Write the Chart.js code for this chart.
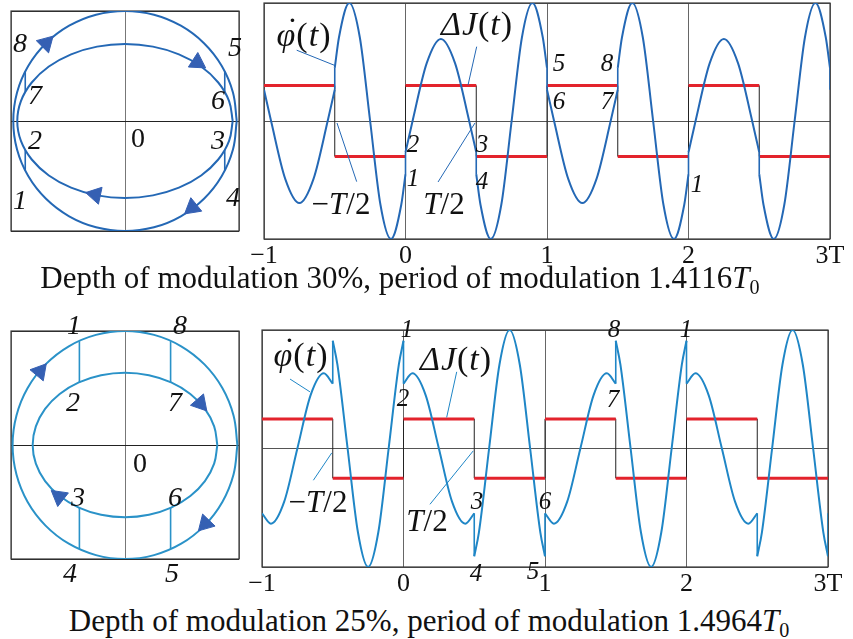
<!DOCTYPE html>
<html>
<head>
<meta charset="utf-8">
<script src="https://cdn.jsdelivr.net/npm/chart.js@4.4.1/dist/chart.umd.min.js"></script>
<style>
  body { margin: 0; background: #fff; width: 853px; height: 639px; overflow: hidden; position: relative;
         font-family: "Liberation Serif", "Times New Roman", serif; color: #111; }
  .box { position: absolute; }
  .lbl { position: absolute; transform: translate(-50%, -50%); font-style: italic; line-height: 1; white-space: nowrap; }
  .ph { font-size: 28px; }
  .ts { font-size: 25px; }
  .big { font-size: 31px; }
  .huge { font-size: 34px; letter-spacing: 1px; }
  .up { font-style: normal; }
  .dotted { position: relative; }
  .dotted .d { position: absolute; left: 0.3em; top: -0.1em; font-style: normal; }
  .cap { position: absolute; transform: translate(-50%, -50%); font-size: 31px; line-height: 1; white-space: nowrap; }
  .cap sub { font-size: 0.65em; line-height: 0; vertical-align: -0.3em; }
</style>
</head>
<body>

<div class="box" style="left:0;top:0"><canvas id="phaseTop" width="250" height="242"></canvas></div>
<div class="box" style="left:244px;top:0"><canvas id="timeTop" width="609" height="272"></canvas></div>
<div class="box" style="left:0;top:320px"><canvas id="phaseBot" width="250" height="250"></canvas></div>
<div class="box" style="left:244px;top:320px"><canvas id="timeBot" width="609" height="280"></canvas></div>

<!-- top phase portrait labels -->
<div class="lbl ph" style="left:20px;top:43px">8</div>
<div class="lbl ph" style="left:235px;top:47px">5</div>
<div class="lbl ph" style="left:35px;top:95px">7</div>
<div class="lbl ph" style="left:218px;top:100px">6</div>
<div class="lbl ph" style="left:35px;top:140px">2</div>
<div class="lbl ph up" style="left:138px;top:138px">0</div>
<div class="lbl ph" style="left:218px;top:140px">3</div>
<div class="lbl ph" style="left:20px;top:200px">1</div>
<div class="lbl ph" style="left:233px;top:197px">4</div>

<!-- top time series labels -->
<div class="lbl huge" style="left:304px;top:35px"><span class="dotted">φ<span class="d">˙</span></span><span class="up">(</span>t<span class="up">)</span></div>
<div class="lbl huge" style="left:477px;top:24px">ΔJ<span class="up">(</span>t<span class="up">)</span></div>
<div class="lbl big" style="left:341px;top:203px"><span class="up">−</span>T<span class="up">/2</span></div>
<div class="lbl big" style="left:444px;top:203px">T<span class="up">/2</span></div>
<div class="lbl ts" style="left:413px;top:143px">2</div>
<div class="lbl ts" style="left:413px;top:177px">1</div>
<div class="lbl ts" style="left:482px;top:143px">3</div>
<div class="lbl ts" style="left:482px;top:180px">4</div>
<div class="lbl ts" style="left:559px;top:62px">5</div>
<div class="lbl ts" style="left:559px;top:100px">6</div>
<div class="lbl ts" style="left:607px;top:62px">8</div>
<div class="lbl ts" style="left:607px;top:100px">7</div>
<div class="lbl ts" style="left:697px;top:183px">1</div>

<div class="cap" style="left:400px;top:277px">Depth of modulation 30%, period of modulation 1.4116<i>T</i><sub>0</sub></div>

<!-- bottom phase portrait labels -->
<div class="lbl ph" style="left:74px;top:325px">1</div>
<div class="lbl ph" style="left:180px;top:325px">8</div>
<div class="lbl ph" style="left:73px;top:402px">2</div>
<div class="lbl ph" style="left:175px;top:402px">7</div>
<div class="lbl ph up" style="left:140px;top:463px">0</div>
<div class="lbl ph" style="left:78px;top:497px">3</div>
<div class="lbl ph" style="left:175px;top:497px">6</div>
<div class="lbl ph" style="left:70px;top:573px">4</div>
<div class="lbl ph" style="left:172px;top:573px">5</div>

<!-- bottom time series labels -->
<div class="lbl huge" style="left:301px;top:355px"><span class="dotted">φ<span class="d">˙</span></span><span class="up">(</span>t<span class="up">)</span></div>
<div class="lbl huge" style="left:456px;top:359px">ΔJ<span class="up">(</span>t<span class="up">)</span></div>
<div class="lbl big" style="left:318px;top:501px"><span class="up">−</span>T<span class="up">/2</span></div>
<div class="lbl big" style="left:427px;top:520px">T<span class="up">/2</span></div>
<div class="lbl ts" style="left:407px;top:328px">1</div>
<div class="lbl ts" style="left:403px;top:397px">2</div>
<div class="lbl ts" style="left:477px;top:500px">3</div>
<div class="lbl ts" style="left:476px;top:572px">4</div>
<div class="lbl ts" style="left:533px;top:570px">5</div>
<div class="lbl ts" style="left:545px;top:500px">6</div>
<div class="lbl ts" style="left:614px;top:328px">8</div>
<div class="lbl ts" style="left:613px;top:398px">7</div>
<div class="lbl ts" style="left:686px;top:328px">1</div>

<div class="cap" style="left:429px;top:620px">Depth of modulation 25%, period of modulation 1.4964<i>T</i><sub>0</sub></div>

<script>
// ---- time series (t in units of T) ----
const stepEdges = [-1, -0.5, 0, 0.5, 1, 1.5, 2, 2.5, 3];
const djTop = [0.3, -0.3, 0.3, -0.3, 0.3, -0.3, 0.3, -0.3];
const djBot = [0.25, -0.25, 0.25, -0.25, 0.25, -0.25, 0.25, -0.25];

// phi-dot, top (30%). a repeated t means a jump
const phiTopT = [-1, -0.95, -0.85, -0.75, -0.65, -0.55, -0.5,
  -0.5, -0.47, -0.397, -0.323, -0.25, -0.177, -0.103, -0.03, 0,
  0, 0.05, 0.15, 0.25, 0.35, 0.45, 0.5,
  0.5, 0.53, 0.603, 0.677, 0.75, 0.823, 0.897, 0.97, 1,
  1, 1.05, 1.15, 1.25, 1.35, 1.45, 1.5,
  1.5, 1.53, 1.603, 1.677, 1.75, 1.823, 1.897, 1.97, 2,
  2, 2.05, 2.15, 2.25, 2.35, 2.45, 2.5,
  2.5, 2.53, 2.603, 2.677, 2.75, 2.823, 2.897, 2.97, 3,
  3];
const phiTopV = [0.265, 0, -0.49, -0.695, -0.49, 0, 0.265,
  0.45, 0.71, 1, 0.71, 0, -0.71, -1, -0.71, -0.45,
  -0.265, 0, 0.49, 0.695, 0.49, 0, -0.265,
  -0.45, -0.71, -1, -0.71, 0, 0.71, 1, 0.71, 0.45,
  0.265, 0, -0.49, -0.695, -0.49, 0, 0.265,
  0.45, 0.71, 1, 0.71, 0, -0.71, -1, -0.71, -0.45,
  -0.265, 0, 0.49, 0.695, 0.49, 0, -0.265,
  -0.45, -0.71, -1, -0.71, 0, 0.71, 1, 0.71, 0.45,
  0.265];

// phi-dot, bottom (25%)
const phiBotT = [-1, -0.937, -0.843, -0.75, -0.657, -0.563, -0.5,
  -0.5, -0.467, -0.395, -0.322, -0.25, -0.178, -0.105, -0.033, 0,
  0, 0.063, 0.157, 0.25, 0.343, 0.437, 0.5,
  0.5, 0.533, 0.605, 0.678, 0.75, 0.822, 0.895, 0.967, 1,
  1, 1.063, 1.157, 1.25, 1.343, 1.437, 1.5,
  1.5, 1.533, 1.605, 1.678, 1.75, 1.822, 1.895, 1.967, 2,
  2, 2.063, 2.157, 2.25, 2.343, 2.437, 2.5,
  2.5, 2.533, 2.605, 2.678, 2.75, 2.822, 2.895, 2.967, 3,
  3];
const phiBotV = [-0.547, -0.634, -0.448, 0, 0.448, 0.634, 0.547,
  0.909, 0.707, 0, -0.707, -1, -0.707, 0, 0.707, 0.909,
  0.547, 0.634, 0.448, 0, -0.448, -0.634, -0.547,
  -0.909, -0.707, 0, 0.707, 1, 0.707, 0, -0.707, -0.909,
  -0.547, -0.634, -0.448, 0, 0.448, 0.634, 0.547,
  0.909, 0.707, 0, -0.707, -1, -0.707, 0, 0.707, 0.909,
  0.547, 0.634, 0.448, 0, -0.448, -0.634, -0.547,
  -0.909, -0.707, 0, 0.707, 1, 0.707, 0, -0.707, -0.909,
  -0.547];

// leader lines [x1, y1, x2, y2]
const leadersTop = [[-0.769, 0.60, -0.498, 0.47], [0.503, 0.63, 0.442, 0.305],
  [-0.345, -0.514, -0.484, -0.017], [0.23, -0.517, 0.491, -0.017]];
const leadersBot = [[-0.802, 0.586, -0.661, 0.478], [0.376, 0.647, 0.305, 0.262],
  [-0.637, -0.268, -0.507, -0.037], [0.187, -0.471, 0.493, -0.02]];

// ---- phase portraits ----
const topOuterX = [0.98, 0.947, 0.849, 0.693, 0.49, 0.254, 0, -0.254, -0.49, -0.693, -0.849, -0.947, -0.98,
  -0.947, -0.849, -0.693, -0.49, -0.254, 0, 0.254, 0.49, 0.693, 0.849, 0.947, 0.98];
const topOuterY = [0, 0.259, 0.5, 0.707, 0.866, 0.966, 1, 0.966, 0.866, 0.707, 0.5, 0.259, 0,
  -0.259, -0.5, -0.707, -0.866, -0.966, -1, -0.966, -0.866, -0.707, -0.5, -0.259, 0];
const topInnerX = [0.945, 0.913, 0.818, 0.668, 0.473, 0.245, 0, -0.245, -0.473, -0.668, -0.818, -0.913, -0.945,
  -0.913, -0.818, -0.668, -0.473, -0.245, 0, 0.245, 0.473, 0.668, 0.818, 0.913, 0.945];
const topInnerY = [0, 0.181, 0.35, 0.495, 0.606, 0.676, 0.70, 0.676, 0.606, 0.495, 0.35, 0.181, 0,
  -0.181, -0.35, -0.495, -0.606, -0.676, -0.70, -0.676, -0.606, -0.495, -0.35, -0.181, 0];
const botOuterX = [0.986, 0.952, 0.854, 0.697, 0.493, 0.255, 0, -0.255, -0.493, -0.697, -0.854, -0.952, -0.986,
  -0.952, -0.854, -0.697, -0.493, -0.255, 0, 0.255, 0.493, 0.697, 0.854, 0.952, 0.986];
const botOuterY = topOuterY;
const botInnerX = [0.81, 0.782, 0.701, 0.573, 0.405, 0.21, 0, -0.21, -0.405, -0.573, -0.701, -0.782, -0.81,
  -0.782, -0.701, -0.573, -0.405, -0.21, 0, 0.21, 0.405, 0.573, 0.701, 0.782, 0.81];
const botInnerY = [0, 0.164, 0.317, 0.448, 0.549, 0.612, 0.634, 0.612, 0.549, 0.448, 0.317, 0.164, 0,
  -0.164, -0.317, -0.448, -0.549, -0.612, -0.634, -0.612, -0.549, -0.448, -0.317, -0.164, 0];

// switching jumps [x, yFrom, yTo]
const topJumps = [[-0.875, 0.45, 0.265], [-0.875, -0.265, -0.45], [0.875, 0.45, 0.265], [0.875, -0.265, -0.45]];
const botJumps = [[-0.40, 0.909, 0.547], [-0.40, -0.547, -0.909], [0.40, 0.909, 0.547], [0.40, -0.547, -0.909]];

// direction arrows
const topArrowX = [-0.693, 0.591, 0.634, -0.26];
const topArrowY = [0.707, -0.787, 0.532, -0.67];
const topArrowRot = [45, 231, 123, 282];
const botArrowX = [-0.747, 0.705, 0.66, -0.578];
const botArrowY = [0.645, -0.69, 0.365, -0.453];
const botArrowRot = [40, 224, 139, 308];

const BLUE_TOP = '#2468b5';
const BLUE_BOT = '#1f86c6';
const BLUE_PH_BOT = '#2a92c8';
const ARROW = '#3560b3';
const RED = '#e3232c';
const SERIF = '"Liberation Serif", "Times New Roman", serif';

const framePlugin = {
  id: 'frame',
  beforeDatasetsDraw(chart) {
    const { ctx, chartArea: a } = chart;
    ctx.save();
    ctx.strokeStyle = '#3a3a3a';
    ctx.lineWidth = 1.2;
    ctx.strokeRect(a.left, a.top, a.right - a.left, a.bottom - a.top);
    ctx.restore();
  }
};

function pts(xs, ys) {
  return xs.map((x, i) => ({ x, y: ys[i] }));
}

function baseOptions(xmin, xmax, padding, showTicks) {
  return {
    responsive: false,
    animation: false,
    events: [],
    layout: { padding },
    plugins: { legend: { display: false }, tooltip: { enabled: false } },
    elements: { point: { radius: 0 } },
    scales: {
      x: {
        type: 'linear', min: xmin, max: xmax,
        afterFit: (s) => { s.height = showTicks ? 30 : 0; },
        border: { display: false },
        grid: { color: '#666', drawTicks: false, lineWidth: 1 },
        ticks: {
          display: showTicks, stepSize: 1, padding: 4, maxRotation: 0, color: '#111',
          font: { family: SERIF, size: 26, lineHeight: 1 },
          callback: (v) => (v === -1 ? '\u22121' : v === 3 ? '3T' : String(v))
        }
      },
      y: {
        type: 'linear', min: -1, max: 1,
        afterFit: (s) => { s.width = 0; },
        border: { display: false },
        grid: { color: '#555', drawTicks: false, lineWidth: 1 },
        ticks: { display: false, stepSize: 1 }
      }
    }
  };
}

function timeChart(id, ts, vs, dj, leaders, blue, padding) {
  const datasets = [];
  // split curve at jumps (repeated t)
  let cur = [];
  ts.forEach((t, i) => {
    if (i > 0 && t === ts[i - 1]) {
      datasets.push({ data: cur, borderColor: blue, borderWidth: 2, cubicInterpolationMode: 'monotone', order: 0 });
      datasets.push({ data: [{ x: t, y: vs[i - 1] }, { x: t, y: vs[i] }], borderColor: blue, borderWidth: 1.6, order: 0 });
      cur = [];
    }
    cur.push({ x: t, y: vs[i] });
  });
  if (cur.length > 1) {
    datasets.push({ data: cur, borderColor: blue, borderWidth: 2, cubicInterpolationMode: 'monotone', order: 0 });
  }
  // red step levels
  const red = [];
  dj.forEach((v, i) => {
    red.push({ x: stepEdges[i], y: v }, { x: stepEdges[i + 1], y: v }, { x: stepEdges[i + 1], y: null });
  });
  datasets.push({ data: red, borderColor: RED, borderWidth: 3, spanGaps: false, order: 1 });
  // thin black connectors between the levels
  const stepPts = dj.map((v, i) => ({ x: stepEdges[i], y: v }));
  stepPts.push({ x: stepEdges[stepEdges.length - 1], y: dj[dj.length - 1] });
  datasets.push({ data: stepPts, borderColor: '#222', borderWidth: 1, stepped: 'before', order: 2 });
  // leader lines
  leaders.forEach((l) => {
    datasets.push({ data: [{ x: l[0], y: l[1] }, { x: l[2], y: l[3] }], borderColor: blue, borderWidth: 1, order: 0 });
  });
  return new Chart(document.getElementById(id), {
    type: 'line',
    data: { datasets },
    options: baseOptions(-1, 3, padding, true),
    plugins: [framePlugin]
  });
}

function phaseChart(id, ox, oy, ix, iy, jumps, ax, ay, rot, blue, padding) {
  const datasets = [
    { data: pts(ox, oy), borderColor: blue, borderWidth: 2, tension: 0.4, order: 1 },
    { data: pts(ix, iy), borderColor: blue, borderWidth: 2, tension: 0.4, order: 1 }
  ];
  jumps.forEach((j) => {
    datasets.push({ data: [{ x: j[0], y: j[1] }, { x: j[0], y: j[2] }], borderColor: blue, borderWidth: 1.6, order: 1 });
  });
  datasets.push({
    data: pts(ax, ay), showLine: false, order: 0,
    pointStyle: 'triangle', pointRadius: 10, pointRotation: rot,
    pointBackgroundColor: ARROW, pointBorderColor: ARROW, pointBorderWidth: 1
  });
  const opts = baseOptions(-1, 1, padding, false);
  opts.scales.x.grid.color = '#777';
  opts.scales.y.grid.color = '#222';
  return new Chart(document.getElementById(id), {
    type: 'line',
    data: { datasets },
    options: opts,
    plugins: [framePlugin]
  });
}

phaseChart('phaseTop', topOuterX, topOuterY, topInnerX, topInnerY, topJumps,
  topArrowX, topArrowY, topArrowRot, BLUE_TOP, { left: 8, right: 7, top: 3, bottom: 4 });
timeChart('timeTop', phiTopT, phiTopV, djTop, leadersTop, BLUE_TOP, { left: 20, right: 23, top: 3, bottom: 3 });
phaseChart('phaseBot', botOuterX, botOuterY, botInnerX, botInnerY, botJumps,
  botArrowX, botArrowY, botArrowRot, BLUE_PH_BOT, { left: 8, right: 5, top: 10, bottom: 3 });
timeChart('timeBot', phiBotT, phiBotV, djBot, leadersBot, BLUE_BOT, { left: 18, right: 25, top: 10, bottom: 3 });
</script>
</body>
</html>
